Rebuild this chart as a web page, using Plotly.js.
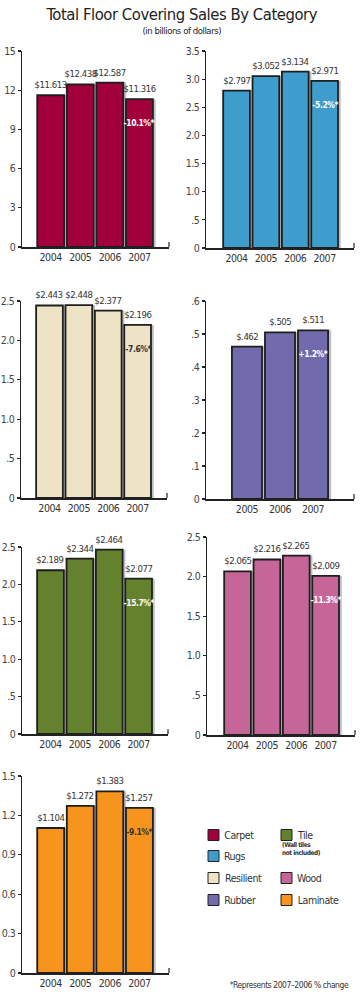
<!DOCTYPE html>
<html>
<head>
<meta charset="utf-8">
<script src="https://cdn.plot.ly/plotly-3.0.1.min.js"></script>
<style>
html,body{margin:0;padding:0;background:#fff;}
#chart{width:362px;height:992px;}
#chart .main-svg text{letter-spacing:-0.45px;}
</style>
</head>
<body>
<div id="chart"></div>
<script>
// ---- DATA ----
const years4 = ['2004', '2005', '2006', '2007'];
const years3 = ['2005', '2006', '2007'];
const categories = ['Carpet', 'Rugs', 'Resilient', 'Rubber', 'Tile', 'Wood', 'Laminate'];
const carpetValues = [11.613, 12.438, 12.587, 11.316];
const rugsValues = [2.797, 3.052, 3.134, 2.971];
const resilientValues = [2.443, 2.448, 2.377, 2.196];
const rubberValues = [0.462, 0.505, 0.511];
const tileValues = [2.189, 2.344, 2.464, 2.077];
const woodValues = [2.065, 2.216, 2.265, 2.009];
const laminateValues = [1.104, 1.272, 1.383, 1.257];
const pctChanges = ['-10.1%*', '-5.2%*', '-7.6%*', '+1.2%*', '-15.7%*', '-11.3%*', '-9.1%*'];
const carpetTicks = [0, 3, 6, 9, 12, 15];
const carpetTickText = ['0', '3', '6', '9', '12', '15'];
const rugsTicks = [0, 0.5, 1, 1.5, 2, 2.5, 3, 3.5];
const rugsTickText = ['0', '.5', '1.0', '1.5', '2.0', '2.5', '3.0', '3.5'];
const halfTicks25 = [0, 0.5, 1, 1.5, 2, 2.5];
const halfTickText25 = ['0', '.5', '1.0', '1.5', '2.0', '2.5'];
const rubberTicks = [0, 0.1, 0.2, 0.3, 0.4, 0.5, 0.6];
const rubberTickText = ['0', '.1', '.2', '.3', '.4', '.5', '.6'];
const laminateTicks = [0, 0.3, 0.6, 0.9, 1.2, 1.5];
const laminateTickText = ['0', '0.3', '0.6', '0.9', '1.2', '1.5'];

// ---- STYLE ----
const colors = ['#A2003A', '#3E9DCD', '#EFE3C6', '#716AAD', '#64812D', '#C56598', '#F7941E'];
const pctFontColors = ['#fff', '#fff', '#333', '#fff', '#fff', '#fff', '#333'];
const FONT = '"Liberation Sans Narrow", "DejaVu Sans Condensed", "Roboto", sans-serif';
const W = 362, H = 992;

const series = [
  {x: years4, y: carpetValues, tv: carpetTicks, tt: carpetTickText, max: 15},
  {x: years4, y: rugsValues, tv: rugsTicks, tt: rugsTickText, max: 3.5},
  {x: years4, y: resilientValues, tv: halfTicks25, tt: halfTickText25, max: 2.5},
  {x: years3, y: rubberValues, tv: rubberTicks, tt: rubberTickText, max: 0.6},
  {x: years4, y: tileValues, tv: halfTicks25, tt: halfTickText25, max: 2.5},
  {x: years4, y: woodValues, tv: halfTicks25, tt: halfTickText25, max: 2.5},
  {x: years4, y: laminateValues, tv: laminateTicks, tt: laminateTickText, max: 1.5}
];
// panel geometry in pixels: left, right, top, bottom, x-range (in category index units)
const geom = [
  {l: 22, r: 169, t: 51, b: 247, xr: [-0.97, 4.0]},
  {l: 206, r: 354, t: 51, b: 248, xr: [-1.04, 4.0]},
  {l: 21, r: 167, t: 301, b: 498, xr: [-0.97, 4.0]},
  {l: 206, r: 354, t: 301, b: 499, xr: [-1.24, 3.24]},
  {l: 22, r: 168, t: 547, b: 734, xr: [-0.97, 4.0]},
  {l: 207, r: 355, t: 537, b: 735, xr: [-1.04, 4.0]},
  {l: 22, r: 169, t: 776, b: 973, xr: [-0.97, 4.0]}
];

function fmt(v) {
  let s = v.toFixed(3);
  if (s.startsWith('0')) s = s.slice(1);
  return '$' + s;
}

const traces = [];
const annotations = [];
const shapes = [];
const layout = {
  width: W, height: H,
  margin: {l: 0, r: 0, t: 0, b: 0},
  paper_bgcolor: '#fff', plot_bgcolor: 'rgba(0,0,0,0)',
  showlegend: false, barmode: 'overlay',
  font: {family: FONT, color: '#333'}
};

series.forEach((s, i) => {
  const n = i + 1;
  const sfx = n === 1 ? '' : String(n);
  const xa = 'x' + sfx, ya = 'y' + sfx;
  const g = geom[i];
  const idx = s.x.map((_, j) => j);
  // shadow
  traces.push({type: 'bar', x: idx, y: s.y, xaxis: xa, yaxis: ya,
    width: 0.91, offset: -0.36,
    marker: {color: 'rgba(0,0,0,0.25)', line: {width: 0}}, hoverinfo: 'skip'});
  // bars
  traces.push({type: 'bar', x: idx, y: s.y, xaxis: xa, yaxis: ya,
    width: 0.91, offset: -0.455, name: categories[i],
    marker: {color: colors[i], line: {color: '#1e1e1e', width: 1.8}}});
  layout['xaxis' + sfx] = {
    domain: [g.l / W, g.r / W], anchor: ya, type: 'linear', range: g.xr,
    tickvals: idx, ticktext: s.x,
    showline: true, linecolor: '#222', linewidth: 1.5, ticks: '', showgrid: false, zeroline: false,
    tickfont: {size: 10.5, color: '#333', family: FONT}, fixedrange: true
  };
  layout['yaxis' + sfx] = {
    domain: [1 - g.b / H, 1 - g.t / H], anchor: xa, range: [0, s.max],
    tickvals: s.tv, ticktext: s.tt, ticks: 'outside', ticklen: 3, tickwidth: 1.2, tickcolor: '#222',
    showline: true, linecolor: '#222', linewidth: 1.5, showgrid: false, zeroline: false,
    tickfont: {size: 10.5, color: '#444', family: FONT}, fixedrange: true
  };
  // right-end tick of x axis
  shapes.push({type: 'line', xref: xa + ' domain', yref: ya + ' domain', x0: 1, x1: 1, y0: 0, y1: 0.025,
    line: {color: '#222', width: 1.2}});
  idx.forEach((cx, j) => {
    annotations.push({xref: xa, yref: ya, x: cx, y: s.y[j], text: fmt(s.y[j]), showarrow: false,
      yanchor: 'bottom', yshift: 3, font: {size: 9.5, color: '#333', family: FONT}});
  });
  const last = idx.length - 1;
  annotations.push({xref: xa, yref: ya, x: last, y: s.y[last], text: '<b>' + pctChanges[i] + '</b>',
    showarrow: false, yanchor: 'middle', yshift: -24, xshift: 0,
    font: {size: 8.5, color: pctFontColors[i], family: FONT}});
});

// title
annotations.push({xref: 'paper', yref: 'paper', x: 0.5, y: 1 - 14 / H, text: 'Total Floor Covering Sales By Category',
  showarrow: false, yanchor: 'middle', font: {size: 16.5, color: '#222', family: FONT}});
annotations.push({xref: 'paper', yref: 'paper', x: 0.5, y: 1 - 30 / H, text: '(in billions of dollars)',
  showarrow: false, yanchor: 'middle', font: {size: 9.5, color: '#222', family: FONT}});

// legend (drawn)
const legendPos = [
  {x: 208, y: 835}, {x: 208, y: 856}, {x: 208, y: 878}, {x: 208, y: 900},
  {x: 281, y: 835}, {x: 281, y: 878}, {x: 281, y: 900}
];
categories.forEach((c, i) => {
  const p = legendPos[i];
  shapes.push({type: 'rect', xref: 'paper', yref: 'paper',
    x0: p.x / W, x1: (p.x + 11) / W, y0: 1 - (p.y + 5.5) / H, y1: 1 - (p.y - 5.5) / H,
    fillcolor: colors[i], line: {color: '#222', width: 1}});
  annotations.push({xref: 'paper', yref: 'paper', x: (p.x + 13) / W, y: 1 - p.y / H, text: c,
    showarrow: false, xanchor: 'left', yanchor: 'middle', font: {size: 10.5, color: '#333', family: FONT}});
});
annotations.push({xref: 'paper', yref: 'paper', x: 280 / W, y: 1 - 849 / H, text: '<b>(Wall tiles<br>not included)</b>',
  showarrow: false, xanchor: 'left', yanchor: 'middle', align: 'left',
  font: {size: 6.5, color: '#333', family: FONT}});
annotations.push({xref: 'paper', yref: 'paper', x: 357 / W, y: 1 - 985 / H, text: '*Represents 2007–2006 % change',
  showarrow: false, xanchor: 'right', yanchor: 'middle', font: {size: 8.5, color: '#333', family: FONT}});

layout.annotations = annotations;
layout.shapes = shapes;

Plotly.newPlot('chart', traces, layout, {displayModeBar: false, staticPlot: true});
</script>
</body>
</html>
